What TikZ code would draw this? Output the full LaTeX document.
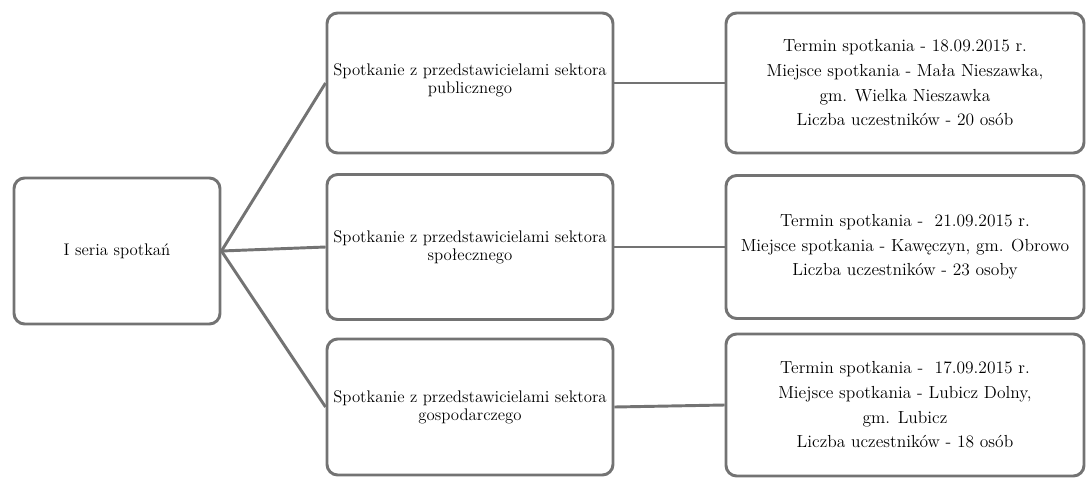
\documentclass[tikz,border=0pt]{standalone}
\usepackage{fontspec}
\begin{document}
\begin{tikzpicture}[x=0.75pt,y=-0.75pt,
  box/.style={draw=boxgray, line width=2.2pt, rounded corners=8pt, fill=white,
    align=center, inner sep=0pt},
  midtext/.style={font=\fontsize{12.6}{13.5}\selectfont},
  righttext/.style={font=\fontsize{13.1}{18.5}\selectfont},
  conn/.style={draw=boxgray, line width=2.2pt}]
\definecolor{boxgray}{RGB}{115,115,115}
\useasboundingbox (0,0) rectangle (1086,479);
\node[box, midtext, minimum width=206*0.75pt, minimum height=146*0.75pt] (root) at (117,251) {I seria spotkań};
\node[box, midtext, minimum width=286*0.75pt, minimum height=140*0.75pt] (m1) at (470,83) {};
\node[midtext, align=center] (t1) at (470,80) {Spotkanie z przedstawicielami sektora\\publicznego};
\node[box, midtext, minimum width=286*0.75pt, minimum height=145*0.75pt] (m2) at (470,247) {Spotkanie z przedstawicielami sektora\\społecznego};
\node[box, midtext, minimum width=286*0.75pt, minimum height=136*0.75pt] (m3) at (470,407) {Spotkanie z przedstawicielami sektora\\gospodarczego};
\node[box, righttext, minimum width=358*0.75pt, minimum height=140*0.75pt] (r1) at (905,83) {Termin spotkania - 18.09.2015 r.\\Miejsce spotkania - Mała Nieszawka,\\gm. Wielka Nieszawka\\Liczba uczestników - 20 osób};
\node[box, righttext, minimum width=358*0.75pt, minimum height=143*0.75pt] (r2) at (905,247) {Termin spotkania -\ \ 21.09.2015 r.\\Miejsce spotkania - Kawęczyn, gm. Obrowo\\Liczba uczestników - 23 osoby};
\node[box, righttext, minimum width=358*0.75pt, minimum height=142*0.75pt] (r3) at (905,405) {Termin spotkania -\ \ 17.09.2015 r.\\Miejsce spotkania - Lubicz Dolny,\\gm. Lubicz\\Liczba uczestników - 18 osób};
\draw[conn] (root.east) -- (m1.west);
\draw[conn] (root.east) -- (m2.west);
\draw[conn] (root.east) -- (m3.west);
\draw[conn] (m1.east) -- (r1.west);
\draw[conn] (m2.east) -- (r2.west);
\draw[conn] (m3.east) -- (r3.west);
\end{tikzpicture}
\end{document}
